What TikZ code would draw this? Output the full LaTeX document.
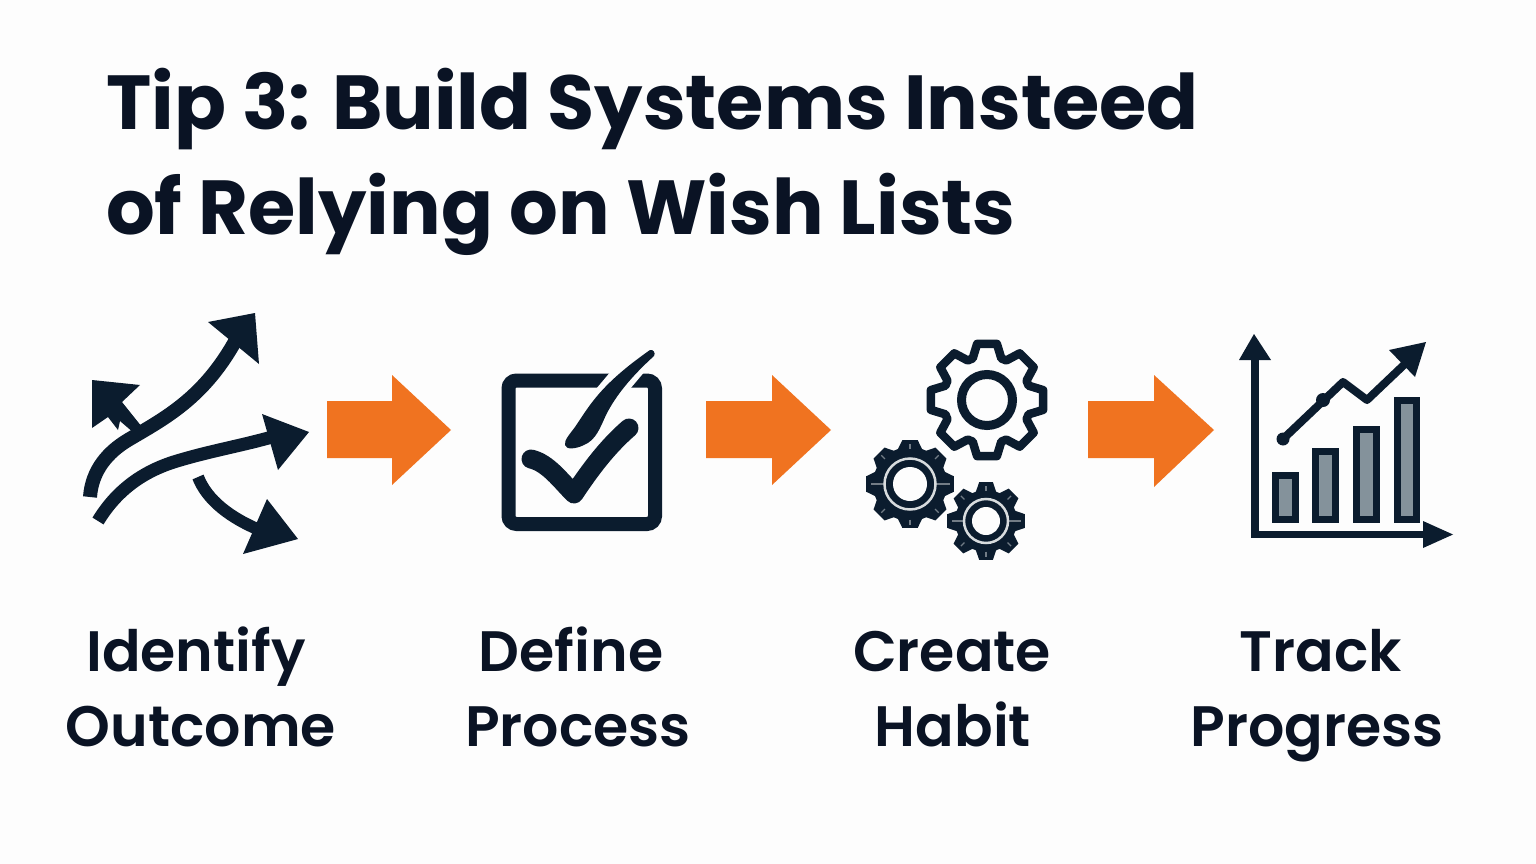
\documentclass[tikz,border=0pt]{standalone}
\usepackage{fontspec}
\setmainfont{Poppins}[BoldFont={Poppins SemiBold}]
\newfontfamily\titlefont{Poppins Bold}
\definecolor{ink}{HTML}{0B1C2E}
\definecolor{textink}{HTML}{0A1324}
\definecolor{orng}{HTML}{F07320}
\definecolor{barg}{HTML}{84929B}
\definecolor{paper}{HTML}{FDFDFD}
\definecolor{ringg}{HTML}{D8DCDE}
\tikzset{
  titletext/.style={anchor=base west,inner sep=0pt,text=textink,font=\titlefont\fontsize{76.6}{77}\selectfont},
  labeltext/.style={anchor=base,inner sep=0pt,text=textink,font=\fontsize{57}{58}\selectfont\bfseries},
  flow/.style={fill=orng,draw=none},
  solidink/.style={fill=ink,draw=none},
  shaft/.style={draw=ink,line width=#1,line cap=butt,line join=round},
  barbox/.style={draw=ink,fill=barg,line width=7pt},
  spoke/.style={draw=ringg!50!ink,line width=1.2pt}
}
\newcommand{\gearshape}[5]{% cx cy tip root style
  \path[#5] ([shift={(#1,#2)}]-19:#4)
  \foreach \a in {0,45,...,315}{
    -- ([shift={(#1,#2)}]\a-19:#4) -- ([shift={(#1,#2)}]\a-10:#3) -- ([shift={(#1,#2)}]\a+10:#3) -- ([shift={(#1,#2)}]\a+19:#4)
  } -- cycle;}
\newcommand{\gearspokes}[4]{% cx cy ring tip
  \foreach \a in {0,180}{\draw[spoke] ([shift={(#1,#2)}]\a:#3) -- ([shift={(#1,#2)}]\a:#4-5);}
  \foreach \a in {90,270,45,135,225,315}{\draw[spoke] ([shift={(#1,#2)}]\a:#4-9) -- ([shift={(#1,#2)}]\a:#4-4);}}
\begin{document}
\begin{tikzpicture}[x=1pt,y=-1pt]
\useasboundingbox (0,0) rectangle (1536,864);
\fill[paper] (0,0) rectangle (1536,864);
\node[titletext] (t1) at (106,130) {Tip 3: Build Systems Insteed};
\node[titletext] (t2) at (106,234) {of Relying on Wish Lists};
% orange arrows
\fill[flow] (327,401) -- (392,401) -- (392,375) -- (451,430) -- (392,485) -- (392,458) -- (327,458) -- cycle;
\fill[flow] (706,401) -- (772,401) -- (772,375) -- (831,430) -- (772,485) -- (772,458) -- (706,458) -- cycle;
\fill[flow] (1088,401) -- (1154,401) -- (1154,375) -- (1214,430) -- (1154,487) -- (1154,458) -- (1088,458) -- cycle;
% icon 1
\draw[shaft=14pt] (90,497) .. controls (92,470) and (108,452) .. (128,440) .. controls (165,418) and (205,398) .. (238,336);
\fill[solidink] (208,322) -- (255,313) -- (259,364) -- cycle;
\draw[shaft=13pt] (98,521) .. controls (115,493) and (140,472) .. (177,461) .. controls (210,451) and (240,446) .. (272,437);
\fill[solidink] (262,414) -- (309,432) -- (278,470) -- cycle;
\draw[shaft=12pt] (198,477) .. controls (207,500) and (230,518) .. (262,531);
\fill[solidink] (267,499) -- (298,539) -- (243,554) -- cycle;
\fill[solidink] (92,380) -- (140,385) -- (122,402) -- (142,427) -- (134,433) -- (120,421) -- (118,430) -- (108,417) -- (92,428) -- cycle;
% icon 2
\draw[ink,line width=14pt,rounded corners=8pt] (508.5,380.5) rectangle (655,524);
\fill[paper] (612,370) -- (646,370) -- (630,389) -- (596,389) -- cycle;
\fill[solidink] (650,350) .. controls (653,349) and (656,353) .. (654,356) .. controls (632,376) and (616,395) .. (606,415) .. controls (600,428) and (596,440) .. (584,445) .. controls (576,449) and (566,450) .. (565,445) .. controls (564,440) and (570,434) .. (575,427) .. controls (590,405) and (600,385) .. (650,350) -- cycle;
\draw[ink,line width=19pt,line cap=round,line join=round] (531,459) .. controls (548,463) and (560,480) .. (574,494) .. controls (590,470) and (607,447) .. (629,428);
% icon 3
\gearshape{987}{400}{57}{44}{draw=ink,fill=paper,line width=8.5pt,line join=round}
\draw[ink,line width=9pt] (987,400) circle (25.5);
\gearshape{910}{484}{44.5}{37}{fill=ink}
\gearspokes{910}{484}{26}{44.5}
\draw[ringg,line width=2.5pt] (910,484) circle (25.5);
\fill[paper] (910,484) circle (17);
\gearshape{986}{521}{39.5}{31}{fill=ink}
\gearspokes{986}{521}{22}{39.5}
\draw[ringg,line width=2.5pt] (986,521) circle (22);
\fill[paper] (986,521) circle (14);
% icon 4
\draw[ink,line width=7.5pt] (1255,350) -- (1255,534.5) -- (1430,534.5);
\fill[solidink] (1254,334) -- (1271,360) -- (1239,360) -- cycle;
\fill[solidink] (1453,534.5) -- (1423,521) -- (1423,548) -- cycle;
\draw[barbox] (1275.5,475.5) rectangle (1295,519.5);
\draw[barbox] (1315.5,451.5) rectangle (1335.5,519.5);
\draw[barbox] (1356.5,429.5) rectangle (1376.5,519.5);
\draw[barbox] (1397.5,400.5) rectangle (1416.5,519.5);
\draw[ink,line width=8pt,line join=round] (1283,439) -- (1343,382) -- (1367,400) -- (1407,362);
\fill[solidink] (1283,439) circle (6.5);
\fill[solidink] (1323,400) circle (7);
\fill[solidink] (1426,342) -- (1389,350) -- (1415,377) -- cycle;
% labels
\node[labeltext] (l1a) at (196,671) {Identify};
\node[labeltext] (l1b) at (201,746) {Outcome};
\node[labeltext] (l2a) at (571,671) {Define};
\node[labeltext] (l2b) at (578,746) {Process};
\node[labeltext] (l3a) at (952,671) {Create};
\node[labeltext] (l3b) at (953,746) {Habit};
\node[labeltext] (l4a) at (1321,671) {Track};
\node[labeltext] (l4b) at (1317,746) {Progress};
\end{tikzpicture}
\end{document}
